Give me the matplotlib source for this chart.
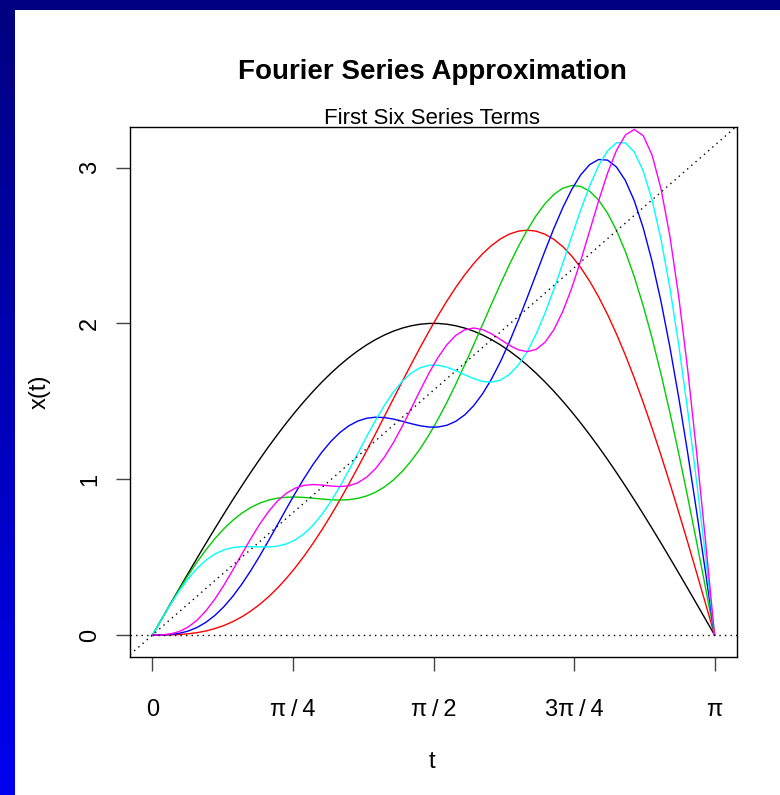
import numpy as np
import matplotlib
matplotlib.use('Agg')
import matplotlib.pyplot as plt
from matplotlib.colors import LinearSegmentedColormap

# Fourier sine coefficients of the first six terms (as in the chart)
coefs = [2.0, -1.0, 2.0 / 3.0, -0.5, 0.4, -1.0 / 3.0]
colors = ['black', 'red', '#00CD00', 'blue', 'cyan', 'magenta']
n_points = 64

xtick_vals = [0, np.pi / 4, np.pi / 2, 3 * np.pi / 4, np.pi]
xtick_labels = ['0', 'π\u2009/\u20094', 'π\u2009/\u20092', '3π\u2009/\u20094', 'π']
ytick_vals = [0, 1, 2, 3]

plt.rcParams['font.family'] = ['Liberation Sans', 'DejaVu Sans']

fig = plt.figure(figsize=(7.8, 7.95), dpi=100)

# blue frame: top strip and left gradient strip
top = fig.add_axes([0, 1 - 10 / 795, 1, 10 / 795])
top.set_axis_off()
top.add_patch(plt.Rectangle((0, 0), 1, 1, color='#000080', transform=top.transAxes))
left = fig.add_axes([0, 0, 15 / 780, 1])
left.set_axis_off()
grad = np.linspace(0, 1, 256).reshape(-1, 1)
cm = LinearSegmentedColormap.from_list('bl', ['#0000F0', '#000080'])
left.imshow(grad, aspect='auto', cmap=cm, origin='lower', extent=[0, 1, 0, 1])

ax = fig.add_axes([130 / 780, 1 - 657 / 795, 607 / 780, 530 / 795])

t = np.linspace(0, np.pi, n_points)
partial = np.zeros_like(t)
for k, (b, c) in enumerate(zip(coefs, colors), start=1):
    partial = partial + b * np.sin(k * t)
    ax.plot(t, partial, color=c, lw=1.0)

ax.axhline(0, color='black', ls=(0, (1, 3)), lw=1.0)
ax.axline((0, 0), slope=1, color='black', ls=(0, (1, 3)), lw=1.0)

ax.set_xlim(-0.1257, 3.267)
ax.set_ylim(-0.141, 3.26)
ax.set_xticks(xtick_vals)
ax.set_xticklabels(xtick_labels)
ax.set_yticks(ytick_vals)
ax.set_yticklabels([str(v) for v in ytick_vals], rotation=90, va='center')
ax.tick_params(axis='both', direction='out', length=10, width=1, labelsize=17, color='#444444')
ax.tick_params(axis='x', pad=20)
ax.tick_params(axis='y', pad=11)
for s in ax.spines.values():
    s.set_linewidth(1.0)

ax.set_xlabel('t', fontsize=17, va='center')
ax.set_ylabel('x(t)', fontsize=17, va='center')
ax.xaxis.set_label_coords((432 - 130) / 607, (657 - 762) / 530)
ax.yaxis.set_label_coords((40 - 130) / 607, 0.5)

fig.text(432 / 780, 1 - 72 / 795, 'Fourier Series Approximation', fontsize=20,
         fontweight='bold', ha='center', va='center')
fig.text(432 / 780, 1 - 118 / 795, 'First Six Series Terms', fontsize=16,
         ha='center', va='center')

fig.savefig('out.png', dpi=100)
